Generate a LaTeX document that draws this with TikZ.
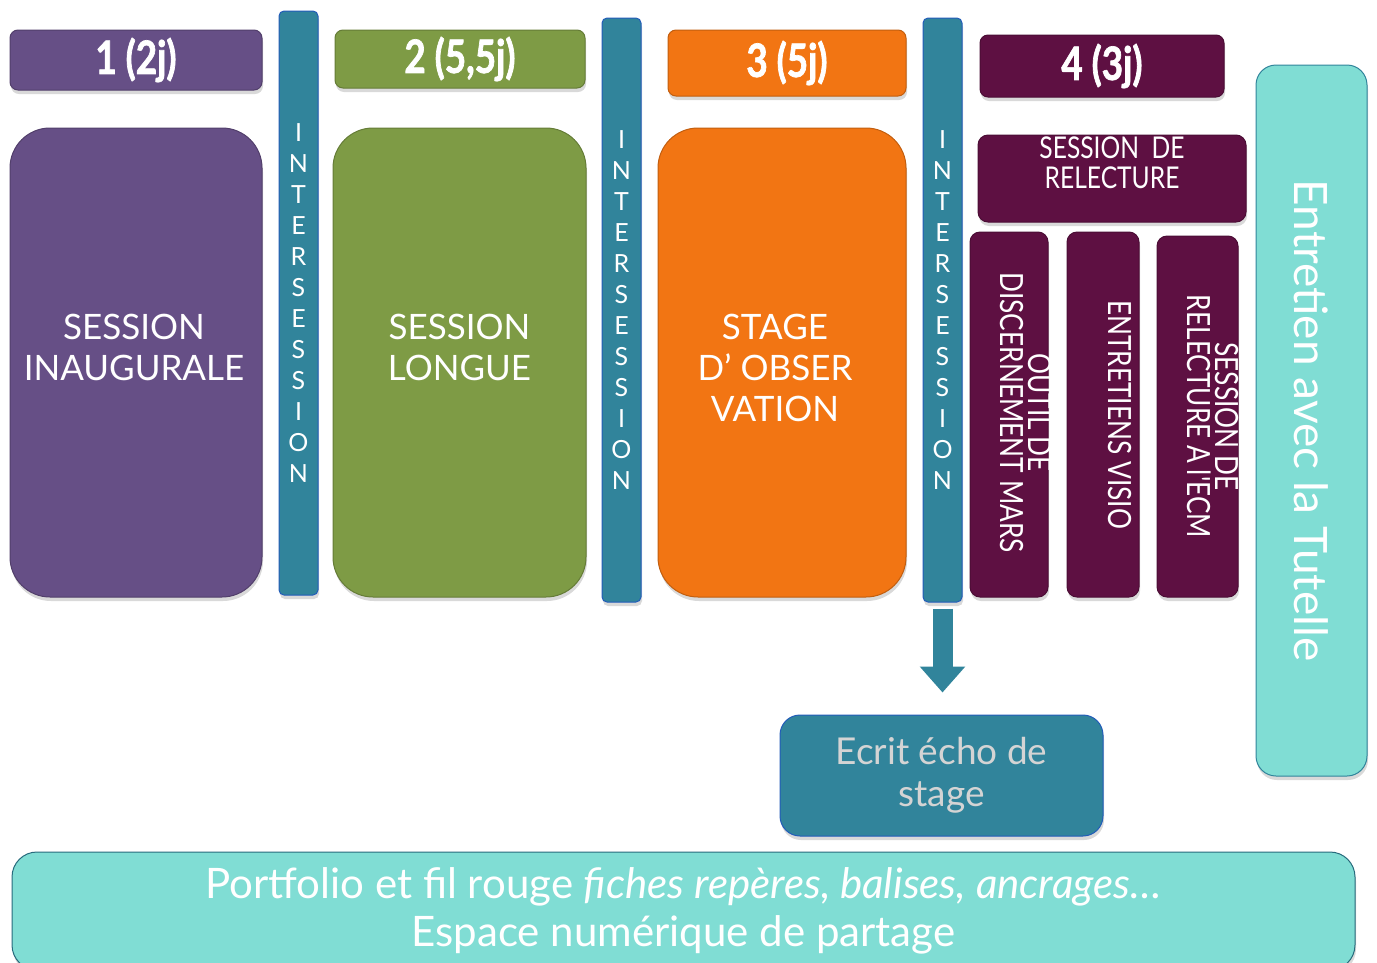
\documentclass[tikz,border=0pt]{standalone}
\usepackage{fontspec}
\setmainfont{Lato}
\newfontfamily\condfont[FakeStretch=0.82]{Lato}
\newfontfamily\headfont[FakeStretch=0.8, BoldFeatures={FakeBold=1.5}]{Lato}
\usepackage{tikz}
\usetikzlibrary{arrows.meta,shadows}
\definecolor{violet1}{HTML}{664F86}
\definecolor{olive2}{HTML}{7E9B45}
\definecolor{orange3}{HTML}{F27513}
\definecolor{prune4}{HTML}{5E1042}
\definecolor{petrol}{HTML}{31849B}
\definecolor{aqua}{HTML}{80DDD4}

\begin{document}
\begin{tikzpicture}[x=1pt, y=-1pt,
    base/.style = {draw=#1!80!black, fill=#1, line width=1pt, inner sep=0pt,
                   drop shadow={opacity=0.3, shadow xshift=1pt, shadow yshift=-4pt}},
    txt/.style = {text=white, align=center, inner sep=0pt},
    head/.style = {base=#1, txt, rounded corners=8pt, font=\headfont\bfseries\fontsize{46}{48}\selectfont},
    block/.style = {base=#1, rounded corners=40pt, minimum height=469pt},
    big/.style = {txt, font=\fontsize{35}{41}\selectfont},
    bar/.style = {base=petrol, txt, draw=petrol!70!blue, rounded corners=5pt, minimum width=39pt, minimum height=584pt,
                  font=\fontsize{25}{31}\selectfont},
    sub/.style = {base=prune4, rounded corners=10pt, rotate=-90},
    subtxt/.style = {txt, rotate=-90, font=\condfont\fontsize{32}{28}\selectfont}]
    \useasboundingbox (0,0) rectangle (1377,962);

    % en-tetes
    \node[head=violet1, minimum width=252pt, minimum height=60pt] (h1) at (136,60) {1 (2j)};
    \node[head=olive2, minimum width=250pt, minimum height=58pt] (h2) at (460,59) {2 (5,5j)};
    \node[head=orange3, minimum width=238pt, minimum height=66pt] (h3) at (787,63) {3 (5j)};
    \node[head=prune4, minimum width=244pt, minimum height=62pt] (h4) at (1102,66) {4 (3j)};

    % sessions
    \node[block=violet1, minimum width=252pt] (s1) at (136,362.5) {};
    \node[block=olive2, minimum width=253pt] (s2) at (459.5,362.5) {};
    \node[block=orange3, minimum width=248pt] (s3) at (782,362.5) {};
    \node[big] (s1t) at ([xshift=-2pt, yshift=15pt]s1.center) {SESSION\\INAUGURALE};
    \node[big] (s2t) at ([yshift=15pt]s2.center) {SESSION\\LONGUE};
    \node[big] (s3t) at ([xshift=-7pt, yshift=-5pt]s3.center) {STAGE\\D' OBSER\\VATION};

    % intersessions
    \node[bar] (i1) at (298.5,303) {I\\N\\T\\E\\R\\S\\E\\S\\S\\I\\O\\N};
    \node[bar] (i2) at (621.5,310) {I\\N\\T\\E\\R\\S\\E\\S\\S\\I\\O\\N};
    \node[bar] (i3) at (942.5,310) {I\\N\\T\\E\\R\\S\\E\\S\\S\\I\\O\\N};

    % bloc 4
    \node[base=prune4, rounded corners=10pt, minimum width=268pt, minimum height=87pt] (r) at (1112,178.5) {};
    \node[txt, font=\condfont\fontsize{30}{30}\selectfont] (rt) at ([yshift=16pt]r.center) {SESSION\ \ DE\\RELECTURE};
    \node[sub, minimum width=365pt, minimum height=78pt] (v1) at (1009,414.5) {};
    \node[sub, minimum width=365pt, minimum height=72pt] (v2) at (1103,414.5) {};
    \node[sub, minimum width=361pt, minimum height=81pt] (v3) at (1197.5,416.5) {};
    \node[subtxt] (v1t) at ([xshift=17pt, yshift=2pt]v1.center) {OUTIL DE\\DISCERNEMENT MARS};
    \node[subtxt] (v2t) at ([xshift=17pt]v2.center) {ENTRETIENS VISIO};
    \node[subtxt] (v3t) at ([xshift=15pt]v3.center) {SESSION DE\\RELECTURE A l'ECM};

    \node[base=aqua, txt, draw=petrol, rounded corners=20pt, rotate=-90, minimum width=711pt, minimum height=111pt,
          font=\fontsize{46}{48}\selectfont] (t) at (1311.5,420.5) {Entretien avec la Tutelle};

    % ecrit
    \node[base=petrol, txt, draw=petrol!70!blue, rounded corners=20pt, minimum width=323pt, minimum height=121pt,
          text=black!17, font=\fontsize{37}{42}\selectfont] (e) at (941.5,775.5) {Ecrit écho de\\stage};
    \draw[petrol, line width=20pt, -{Triangle[width=44pt,length=26pt]}]
        ([yshift=-6pt]i3.south) -- ([yshift=22pt]i3.south |- e.north);

    % portfolio
    \node[base=aqua, txt, draw=petrol!80!black, rounded corners=25pt, minimum width=1343pt, minimum height=118pt,
          font=\fontsize{42}{48}\selectfont] (p) at (683.5,911)
          {Portfolio et fil rouge \textit{fiches repères, balises, ancrages…}\\Espace numérique de partage};
\end{tikzpicture}
\end{document}
